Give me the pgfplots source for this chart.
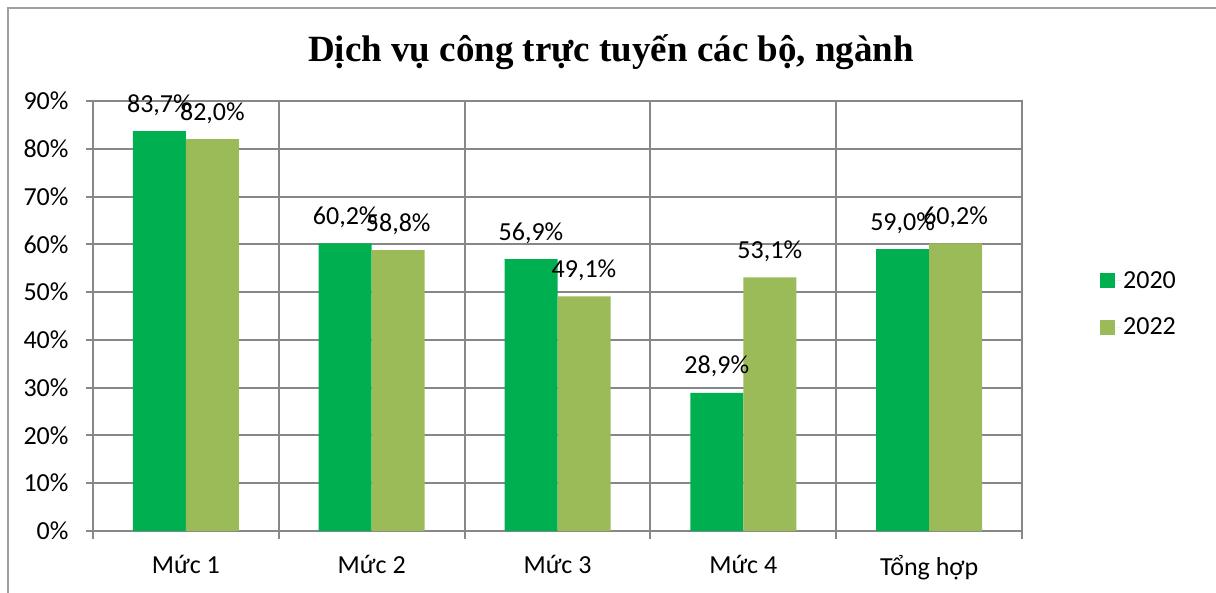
\documentclass[border=0pt]{standalone}
\usepackage{pgfplots}
\pgfplotsset{compat=1.18}
\usepackage{fontspec}
\setmainfont{Carlito}
\newfontfamily\titlefont{Liberation Serif}
\definecolor{gA}{HTML}{00B050}
\definecolor{gB}{HTML}{9BBB59}
\definecolor{gridc}{HTML}{878787}
\newcommand{\lblfont}{\fontsize{26}{31}\selectfont}
\begin{document}
\begin{tikzpicture}
\useasboundingbox (0pt,0pt) rectangle (1216pt,592pt);
\draw[gridc!80, line width=2pt] (8pt,-10pt) -- (8pt,584pt) -- (1230pt,584pt);
\node[anchor=base, font=\titlefont\bfseries\fontsize{37}{44}\selectfont] at (611pt,530pt) {Dịch vụ công trực tuyến các bộ, ngành};
\begin{axis}[
  at={(93pt,61pt)}, anchor=south west,
  scale only axis, width=929pt, height=430pt,
  xmin=-0.5, xmax=4.5, ymin=0, ymax=90,
  ybar=0pt, bar width=53pt,
  xtick={0,1,2,3,4},
  xticklabels={Mức 1,Mức 2,Mức 3,Mức 4,Tổng hợp},
  major x tick style={draw=none},
  minor xtick={-0.5,0.5,1.5,2.5,3.5,4.5},
  minor x tick style={gridc, line width=2pt},
  minor tick length=8pt,
  xminorgrids=true,
  minor x grid style={gridc, line width=2pt},
  ytick={0,10,...,90},
  yticklabels={0\%,10\%,20\%,30\%,40\%,50\%,60\%,70\%,80\%,90\%},
  ymajorgrids=true,
  major grid style={gridc, line width=2pt},
  major y tick style={gridc, line width=2pt},
  major tick length=7pt,
  tick align=outside,
  tick pos=left,
  axis line style={gridc, line width=2pt},
  tick label style={font=\lblfont, text=black},
  yticklabel style={xshift=-14pt},
  xticklabel style={yshift=-14pt},
  nodes near coords={\pgfmathprintnumber[fixed,fixed zerofill,precision=1,use comma,assume math mode=true]{\pgfplotspointmeta}\%},
  every node near coord/.append style={font=\lblfont, text=black, anchor=base, yshift=19pt},
  legend style={at={(1,0.528)}, anchor=west, xshift=75pt, draw=none, fill=none, font=\lblfont, row sep=24pt},
  legend cell align=left,
  legend image code/.code={\path (0pt,0pt) -- (21pt,0pt); \fill[#1] (0pt,-7.5pt) rectangle (15pt,7.5pt);},
]
\addplot[fill=gA, draw=none] coordinates {(0,83.7) (1,60.2) (2,56.9) (3,28.9) (4,59.0)};
\addplot[fill=gB, draw=none] coordinates {(0,82.0) (1,58.8) (2,49.1) (3,53.1) (4,60.2)};
\legend{2020,2022}
\end{axis}
\end{tikzpicture}
\end{document}
